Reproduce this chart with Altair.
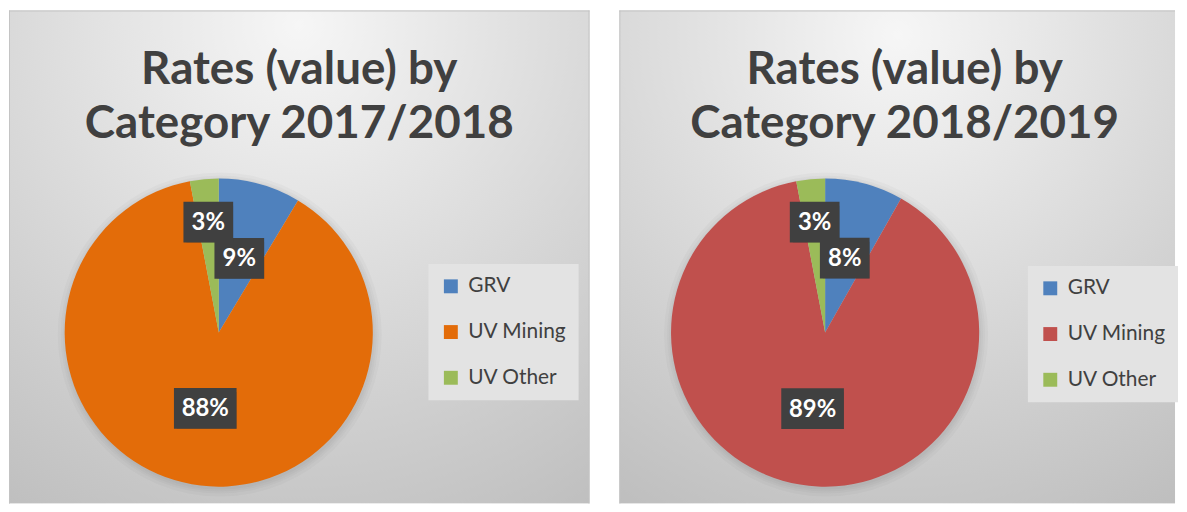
import altair as alt
import pandas as pd

categories = ["GRV", "UV Mining", "UV Other"]
values_1718 = [8.6, 88.4, 3.0]
values_1819 = [8.2, 88.8, 3.0]
colors_1718 = ["#4F81BD", "#E36C09", "#9BBB59"]
colors_1819 = ["#4F81BD", "#C0504D", "#9BBB59"]
titles_1718 = ["Rates (value) by", "Category 2017/2018"]
titles_1819 = ["Rates (value) by", "Category 2018/2019"]

H = 496
R = 155
FONT = "Lato"
EDGE = "#c4c4c4"


def panel(values, colors, title_lines, W, cx, cy, title_x, leg_x, leg_y, right_edge):
    df = pd.DataFrame({"cat": categories, "val": values, "idx": list(range(len(categories)))})
    base = alt.Chart(df)
    one = alt.Data(values=[{}])

    bg = alt.Chart(one).mark_rect(
        fill={
            "gradient": "radial",
            "x1": 0.5, "y1": 0.1, "r1": 0,
            "x2": 0.5, "y2": 0.1, "r2": 1.0,
            "stops": [
                {"offset": 0, "color": "#f6f6f6"},
                {"offset": 1, "color": "#bdbdbd"},
            ],
        },
    ).encode(x=alt.value(0), x2=alt.value(W), y=alt.value(0), y2=alt.value(H))

    edges = [
        alt.Chart(one).mark_rule(color=EDGE, strokeWidth=1).encode(
            x=alt.value(0.5), y=alt.value(0), y2=alt.value(H)
        ),
        alt.Chart(one).mark_rule(color=EDGE, strokeWidth=1).encode(
            x=alt.value(0), x2=alt.value(W), y=alt.value(0.5)
        ),
    ]
    if right_edge:
        edges.append(
            alt.Chart(one).mark_rule(color=EDGE, strokeWidth=1).encode(
                x=alt.value(W - 0.5), y=alt.value(0), y2=alt.value(H)
            )
        )

    halos = [
        alt.Chart(one).mark_arc(
            theta=0, theta2=6.2832, outerRadius=R + d, color="black", opacity=0.025
        ).encode(x=alt.value(cx + 1), y=alt.value(cy + 2))
        for d in (8, 5, 3, 1)
    ]

    title = alt.Chart(one).mark_text(
        text=title_lines,
        font=FONT,
        fontSize=46,
        fontWeight="bold",
        color="#404040",
        align="center",
        baseline="alphabetic",
        lineHeight=54,
    ).encode(x=alt.value(title_x), y=alt.value(74))

    pie = base.mark_arc(outerRadius=R).encode(
        theta=alt.Theta("val:Q", stack=True),
        color=alt.Color(
            "cat:N",
            scale=alt.Scale(domain=categories, range=colors),
            legend=alt.Legend(
                title=None,
                orient="none",
                legendX=leg_x,
                legendY=leg_y,
                symbolType="square",
                symbolSize=196,
                symbolStrokeWidth=0,
                labelFont=FONT,
                labelFontSize=21,
                labelColor="#404040",
                labelOffset=7,
                rowPadding=24,
                padding=12,
                fillColor="#e3e3e3",
            ),
        ),
        order=alt.Order("idx:Q"),
        x=alt.value(cx),
        y=alt.value(cy),
    )

    lab = base.transform_window(
        cum="sum(val)", sort=[alt.SortField("idx")], frame=[None, 0]
    ).transform_joinaggregate(tot="sum(val)").transform_calculate(
        mid="(datum.cum - datum.val/2)/datum.tot*2*PI",
        lr=f"datum.val/datum.tot < 0.05 ? {R * 0.72} : {R * 0.5}",
    ).transform_calculate(
        px=f"{cx} + datum.lr*sin(datum.mid)",
        py=f"{cy} - datum.lr*cos(datum.mid)",
        txt="format(datum.val, '.0f') + '%'",
    ).transform_calculate(
        hw="(24 + 13*length(datum.txt))/2",
    ).transform_calculate(
        bx1="datum.px - datum.hw",
        bx2="datum.px + datum.hw",
        by1="datum.py - 20.5",
        by2="datum.py + 20.5",
    )

    shadow = lab.mark_rect(color="black", opacity=0.22, xOffset=3, yOffset=4).encode(
        x=alt.X("bx1:Q", scale=None, axis=None),
        x2="bx2:Q",
        y=alt.Y("by1:Q", scale=None, axis=None),
        y2="by2:Q",
    )
    box = lab.mark_rect(color="#404040").encode(
        x=alt.X("bx1:Q", scale=None, axis=None),
        x2="bx2:Q",
        y=alt.Y("by1:Q", scale=None, axis=None),
        y2="by2:Q",
    )
    txt = lab.mark_text(
        font=FONT, fontSize=24, fontWeight="bold", color="white",
        align="center", baseline="middle", dy=1,
    ).encode(
        x=alt.X("px:Q", scale=None, axis=None),
        y=alt.Y("py:Q", scale=None, axis=None),
        text="txt:N",
    )

    return alt.layer(bg, *edges, title, *halos, pie, shadow, box, txt).properties(width=W, height=H)


left = panel(values_1718, colors_1718, titles_1718, 584, 211, 324, 292, 422, 255, True)
right = panel(values_1819, colors_1819, titles_1819, 559, 207, 324, 287, 411, 257, False)

chart = alt.hconcat(left, right, spacing=28).resolve_scale(
    color="independent"
).resolve_legend(color="independent").properties(padding=0).configure_view(
    stroke="transparent"
)

chart.save("out.html", embed_options={"renderer": "svg", "actions": False})
